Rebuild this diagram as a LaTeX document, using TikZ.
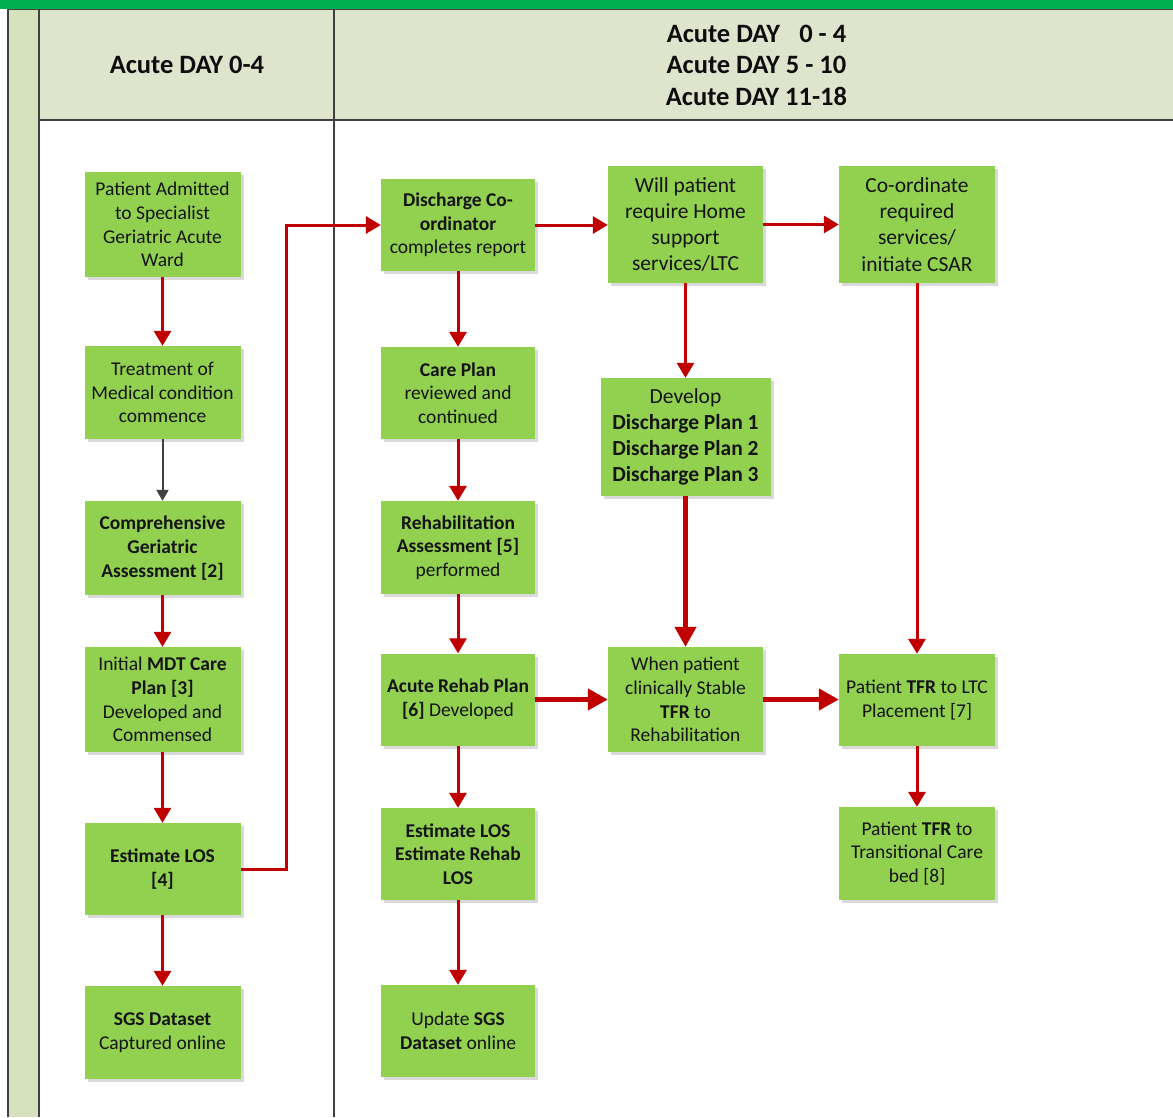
\documentclass[tikz,border=0pt]{standalone}
\usepackage{fontspec}
\setmainfont{Carlito}
\usetikzlibrary{arrows.meta,shadows,calc}
\definecolor{boxgreen}{HTML}{92D050}
\definecolor{arrowred}{HTML}{C00000}
\definecolor{headfill}{HTML}{DFE5CC}
\definecolor{stripfill}{HTML}{D6E2BE}
\definecolor{topgreen}{HTML}{00B050}
\definecolor{framegrey}{HTML}{404040}
\definecolor{shadowgrey}{HTML}{D9D9D9}
\begin{document}
\begin{tikzpicture}[x=1pt,y=-1pt,
  flowbox/.style={rectangle, fill=boxgreen, inner sep=0pt, align=center, text=black!92,
    general shadow={fill=shadowgrey, shadow xshift=3pt, shadow yshift=-3pt},
    font=\fontsize{19.5}{23.6}\selectfont},
  bigtext/.style={font=\fontsize{21.5}{26.2}\selectfont},
  headtext/.style={align=center, inner sep=0pt, text=black!95, font=\fontsize{26.5}{31.5}\selectfont\bfseries},
  flow/.style={draw=arrowred, line width=3pt, -{Triangle[width=17pt,length=15pt]}},
  heavyflow/.style={draw=arrowred, line width=4.5pt, -{Triangle[width=21pt,length=20pt]}},
  greyflow/.style={draw=framegrey, line width=2pt, -{Triangle[width=12pt,length=11pt]}},
  frameline/.style={draw=framegrey, line width=1.8pt}
]
\useasboundingbox (0,0) rectangle (1173,1117);
% background frame
\fill[topgreen] (0,0) rectangle (1173,8.5);
\fill[stripfill] (8,9) rectangle (39,1117);
\fill[headfill] (39,9) rectangle (1173,120);
\draw[frameline] (8,9.5) -- (1173,9.5);
\draw[frameline] (8,9) -- (8,1117);
\draw[frameline] (39,9) -- (39,1117);
\draw[frameline] (39,120) -- (1173,120);
\draw[frameline] (334,9) -- (334,1117);
% headers
\node[headtext] (h1) at (187,64.5) {Acute DAY 0-4};
\node[headtext] (h2) at (756.5,65) {Acute DAY \hspace*{0.5em}0 - 4\\Acute DAY 5 - 10\\Acute DAY 11-18};
% column 1
\node[flowbox, minimum width=156pt, minimum height=105pt] (pa) at (162.5,224.5) {Patient Admitted\\to Specialist\\Geriatric Acute\\Ward};
\node[flowbox, minimum width=156pt, minimum height=93pt] (tm) at (162.5,392.5) {Treatment of\\Medical condition\\commence};
\node[flowbox, minimum width=156pt, minimum height=94pt] (cga) at (162.5,548) {\textbf{Comprehensive}\\\textbf{Geriatric}\\\textbf{Assessment [2]}};
\node[flowbox, minimum width=156pt, minimum height=105pt] (mdt) at (162.5,699.5) {Initial \textbf{MDT Care}\\\textbf{Plan [3]}\\Developed and\\Commensed};
\node[flowbox, minimum width=156pt, minimum height=92pt] (elos) at (162.5,869) {\textbf{Estimate LOS}\\\textbf{[4]}};
\node[flowbox, minimum width=156pt, minimum height=93pt] (sgs) at (162.5,1032.5) {\textbf{SGS Dataset}\\Captured online};
% column 2
\node[flowbox, minimum width=154pt, minimum height=92pt] (dc) at (458,225) {\textbf{Discharge Co-}\\\textbf{ordinator}\\completes report};
\node[flowbox, minimum width=154pt, minimum height=92pt] (cp) at (458,393) {\textbf{Care Plan}\\reviewed and\\continued};
\node[flowbox, minimum width=154pt, minimum height=93pt] (ra) at (458,547.5) {\textbf{Rehabilitation}\\\textbf{Assessment [5]}\\performed};
\node[flowbox, minimum width=154pt, minimum height=92pt] (arp) at (458,699.5) {\textbf{Acute Rehab Plan}\\\textbf{[6]} Developed};
\node[flowbox, minimum width=154pt, minimum height=92pt] (elr) at (458,854) {\textbf{Estimate LOS}\\\textbf{Estimate Rehab}\\\textbf{LOS}};
\node[flowbox, minimum width=154pt, minimum height=92pt] (usgs) at (458,1031) {Update \textbf{SGS}\\\textbf{Dataset} online};
% column 3
\node[flowbox, bigtext, minimum width=155pt, minimum height=117pt] (will) at (685.5,224.5) {Will patient\\require Home\\support\\services/LTC};
\node[flowbox, bigtext, minimum width=170pt, minimum height=118pt] (dev) at (685.5,437) {Develop\\\textbf{Discharge Plan 1}\\\textbf{Discharge Plan 2}\\\textbf{Discharge Plan 3}};
\node[flowbox, minimum width=155pt, minimum height=105pt] (when) at (685.5,699.5) {When patient\\clinically Stable\\\textbf{TFR} to\\Rehabilitation};
% column 4
\node[flowbox, bigtext, minimum width=156pt, minimum height=117pt] (coord) at (917,224.5) {Co-ordinate\\required\\services/\\initiate CSAR};
\node[flowbox, minimum width=156pt, minimum height=92pt] (ltc) at (917,700) {Patient \textbf{TFR} to LTC\\Placement [7]};
\node[flowbox, minimum width=156pt, minimum height=93pt] (tcb) at (917,853.5) {Patient \textbf{TFR} to\\Transitional Care\\bed [8]};
% connectors column 1
\draw[flow] (pa) -- (tm);
\draw[greyflow] (tm) -- (cga);
\draw[flow] (cga) -- (mdt);
\draw[flow] (mdt) -- (elos);
\draw[flow] (elos) -- (sgs);
\coordinate (jog) at (286,869);
\draw[flow] (elos.east) -- (jog) |- (dc.west);
% column 2
\draw[flow] (dc.east) -- (dc.east -| will.west);
\draw[flow] (will.east) -- (will.east -| coord.west);
\draw[flow] (dc) -- (cp);
\draw[flow] (cp) -- (ra);
\draw[flow] (ra) -- (arp);
\draw[flow] (arp) -- (elr);
\draw[flow] (elr) -- (usgs);
% column 3/4
\draw[flow] (will) -- (dev);
\draw[heavyflow] (dev) -- (when);
\draw[heavyflow] (arp.east) -- (arp.east -| when.west);
\draw[heavyflow] (when.east) -- (when.east -| ltc.west);
\draw[flow] (coord) -- (ltc);
\draw[flow] (ltc) -- (tcb);
\end{tikzpicture}
\end{document}
